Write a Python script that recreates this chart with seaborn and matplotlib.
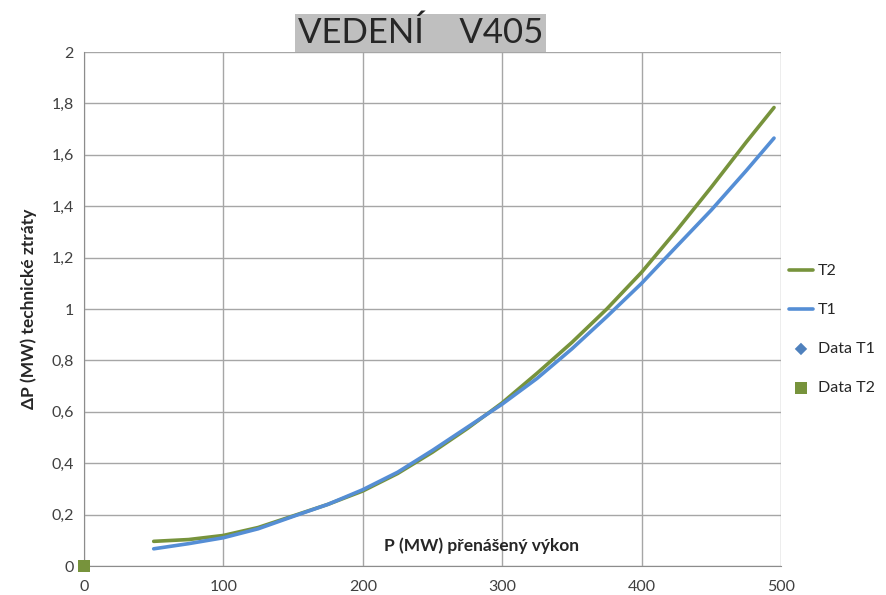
import pandas as pd
import matplotlib.pyplot as plt
import seaborn as sns
from matplotlib.ticker import FuncFormatter

# power transferred (MW)
p_mw = [50, 75, 100, 125, 150, 175, 200, 225, 250, 275, 300, 325, 350, 375, 400, 425, 450, 475, 495]
# technical losses (MW)
loss_t1 = [0.067, 0.087, 0.11, 0.145, 0.193, 0.24, 0.297, 0.365, 0.45, 0.54, 0.63, 0.73, 0.845, 0.97, 1.10, 1.243, 1.385, 1.538, 1.665]
loss_t2 = [0.096, 0.103, 0.119, 0.15, 0.195, 0.24, 0.292, 0.36, 0.443, 0.535, 0.635, 0.75, 0.87, 1.0, 1.143, 1.305, 1.474, 1.649, 1.784]

# measured points
data_t1_x = [0]
data_t1_y = [0]
data_t2_x = [0]
data_t2_y = [0]

green = '#77933C'
blue = '#558ED5'

sns.set_style("white")
plt.rcParams['font.family'] = ['Lato', 'DejaVu Sans']

df = pd.DataFrame({
    'P': p_mw * 2,
    'loss': loss_t2 + loss_t1,
    'series': ['T2'] * len(p_mw) + ['T1'] * len(p_mw),
})

fig = plt.figure(figsize=(8.87, 5.95), dpi=100)
ax = fig.add_axes([0.0947, 0.0487, 0.7858, 0.8639])

sns.lineplot(data=df, x='P', y='loss', hue='series', hue_order=['T2', 'T1'],
             palette={'T2': green, 'T1': blue}, linewidth=2.6, ax=ax)
sns.scatterplot(x=data_t1_x, y=data_t1_y, marker='D', color='#4F81BD', s=40,
                edgecolor='none', label='Data T1', ax=ax, zorder=5)
sns.scatterplot(x=data_t2_x, y=data_t2_y, marker='s', color=green, s=80,
                edgecolor='none', label='Data T2', ax=ax, zorder=6, clip_on=False)

ax.set_xlim(0, 500)
ax.set_ylim(0, 2)
ax.set_xticks(range(0, 501, 100))
ax.set_yticks([i * 0.2 for i in range(11)])
ax.yaxis.set_major_formatter(FuncFormatter(lambda v, _: ('%g' % round(v, 1)).replace('.', ',')))
ax.grid(True, color='#a6a6a6', linewidth=1)
ax.set_axisbelow(True)
for side in ['top', 'right']:
    ax.spines[side].set_visible(False)
for side in ['left', 'bottom']:
    ax.spines[side].set_color('#8c8c8c')
ax.tick_params(axis='both', labelsize=11.5, colors='#8c8c8c', labelcolor='#404040', length=4)
ax.tick_params(axis='x', pad=6)

ax.set_xlabel('')
ax.set_ylabel('ΔP (MW) technické ztráty', fontsize=12.5, fontweight='bold', labelpad=10)
ax.text(285, 0.078, 'P (MW) přenášený výkon', fontsize=12.5, fontweight='bold', ha='center', va='center')

fig.text(0.474, 0.945, 'VEDENÍ    V405', fontsize=25, ha='center', va='center',
         bbox=dict(facecolor='#bfbfbf', edgecolor='none', pad=2))

handles, labels = ax.get_legend_handles_labels()
ax.legend(handles, labels, loc='center left', bbox_to_anchor=(1.0, 0.46), frameon=False,
          fontsize=11.5, labelspacing=1.55, handlelength=1.5, handletextpad=0.3,
          borderaxespad=0.3, borderpad=0.2)

fig.savefig('out.png', dpi=100)
